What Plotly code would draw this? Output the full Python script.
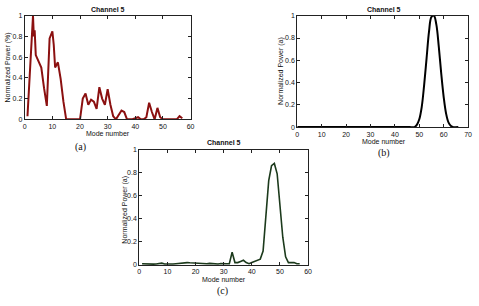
import plotly.graph_objects as go

# ---- data ----
a_mode = [1, 2, 2.6, 3, 3.3, 3.6, 4, 5, 6, 7, 8, 9, 10, 10.5, 11, 12, 13, 14, 15, 16, 17, 18, 19, 20,
          21, 22, 23, 24, 25, 26, 27, 28, 29, 30, 31, 32, 33, 34, 35, 36, 37, 38, 39, 40, 41, 42, 43,
          44, 45, 46, 47, 48, 49, 50, 51, 52, 53, 54, 55, 56, 57]
a_power = [0.03, 0.55, 0.85, 1.0, 0.8, 0.86, 0.62, 0.55, 0.5, 0.3, 0.13, 0.78, 0.85, 0.72, 0.5, 0.55, 0.39, 0.17, 0.0,
           0.0, 0.0, 0.0, 0.0, 0.0,
           0.2, 0.25, 0.14, 0.19, 0.17, 0.1, 0.31, 0.2, 0.14, 0.29, 0.14, 0.03, 0.0, 0.04, 0.085, 0.07,
           0.0, 0.0, 0.0, 0.01, 0.02, 0.0, 0.0, 0.02, 0.16, 0.07, 0.0, 0.11, 0.02, 0.0, 0.0, 0.0, 0.0,
           0.0, 0.0, 0.03, 0.01]

b_mode = [0, 10, 20, 30, 40, 46, 48, 49, 50, 51, 52, 53, 54, 55, 56, 57, 58, 59, 60, 61, 62, 63, 64, 66]
b_power = [0.0, 0.0, 0.0, 0.0, 0.0, 0.0, 0.0, 0.02, 0.07, 0.18, 0.38, 0.62, 0.86, 0.99, 1.0, 0.92,
           0.72, 0.48, 0.27, 0.12, 0.04, 0.01, 0.0, 0.0]

c_mode = list(range(1, 58))
c_power = [0.01, 0.008, 0.006, 0.006, 0.007, 0.008, 0.01, 0.015, 0.008, 0.006, 0.007, 0.008, 0.01,
           0.013, 0.016, 0.018, 0.02, 0.018, 0.016, 0.015, 0.012, 0.01, 0.012, 0.01, 0.013, 0.01,
           0.007, 0.008, 0.012, 0.008, 0.01, 0.01, 0.11, 0.02, 0.02, 0.03, 0.04, 0.02, 0.01, 0.02,
           0.03, 0.04, 0.05, 0.12, 0.44, 0.73, 0.86, 0.88, 0.79, 0.51, 0.24, 0.07, 0.02, 0.02, 0.02,
           0.01, 0.01]

x_ticks_a = [0, 10, 20, 30, 40, 50, 60]
x_ticks_b = [0, 10, 20, 30, 40, 50, 60, 70]
y_ticks = [0, 0.2, 0.4, 0.6, 0.8, 1]
y_ticklabels = ["0", "0.2", "0.4", "0.6", "0.8", "1"]

W, H = 479, 306

def px(x):
    return x / W

def py(y):
    return 1 - y / H

fig = go.Figure()
fig.add_trace(go.Scatter(x=a_mode, y=a_power, mode="lines", line=dict(color="#8b1010", width=2),
                         xaxis="x", yaxis="y", showlegend=False))
fig.add_trace(go.Scatter(x=b_mode, y=b_power, mode="lines", line=dict(color="#000000", width=2, shape="spline"),
                         xaxis="x2", yaxis="y2", showlegend=False))
fig.add_trace(go.Scatter(x=c_mode, y=c_power, mode="lines", line=dict(color="#1c3a1c", width=1.6),
                         xaxis="x3", yaxis="y3", showlegend=False))

font = dict(family="Liberation Sans, Arial, sans-serif", size=7, color="#111111")

def xax(dom, anchor, rng, ticks):
    return dict(domain=dom, anchor=anchor, range=rng, tickvals=ticks, ticktext=[str(t) for t in ticks],
                showline=True, mirror="ticks", linecolor="#222", linewidth=1, ticks="inside",
                ticklen=3, tickcolor="#222", showgrid=False, zeroline=False, tickfont=font)

def yax(dom, anchor):
    return dict(domain=dom, anchor=anchor, range=[0, 1], tickvals=y_ticks, ticktext=y_ticklabels,
                showline=True, mirror="ticks", linecolor="#222", linewidth=1, ticks="inside",
                ticklen=3, tickcolor="#222", showgrid=False, zeroline=False, tickfont=font)

fig.update_layout(
    width=W, height=H, margin=dict(l=0, r=0, t=0, b=0),
    paper_bgcolor="white", plot_bgcolor="white",
    xaxis=xax([px(23), px(191)], "y", [0, 60], x_ticks_a),
    yaxis=yax([py(118), py(12)], "x"),
    xaxis2=xax([px(299), px(472)], "y2", [0, 70], x_ticks_b),
    yaxis2=yax([py(126), py(12)], "x2"),
    xaxis3=xax([px(139), px(310)], "y3", [0, 60], x_ticks_a),
    yaxis3=yax([py(267), py(149)], "x3"),
)

def ann(text, x, y, size=7, angle=0, family="Liberation Sans, Arial, sans-serif", bold=False):
    t = f"<b>{text}</b>" if bold else text
    fig.add_annotation(text=t, x=px(x), y=py(y), xref="paper", yref="paper", showarrow=False,
                       xanchor="center", yanchor="middle", textangle=angle,
                       font=dict(family=family, size=size, color="#111"))

# titles
ann("Channel 5", 107, 6, bold=True)
ann("Channel 5", 387, 6, bold=True)
ann("Channel 5", 225, 142, bold=True)
# x labels
ann("Mode number", 107, 133)
ann("Mode number", 387, 141)
ann("Mode number", 225, 282)
# y labels
ann("Normalized Power (%)", 6, 65, angle=-90)
ann("Normalized Power (a)", 283, 68, angle=-90)
ann("Normalized Power (a)", 125, 210, angle=-90)
# panel captions
ann("(a)", 79, 146, size=10, family="Liberation Serif, serif")
ann("(b)", 387, 152, size=10, family="Liberation Serif, serif")
ann("(c)", 223, 294, size=10, family="Liberation Serif, serif")

fig.write_html("out.html")
